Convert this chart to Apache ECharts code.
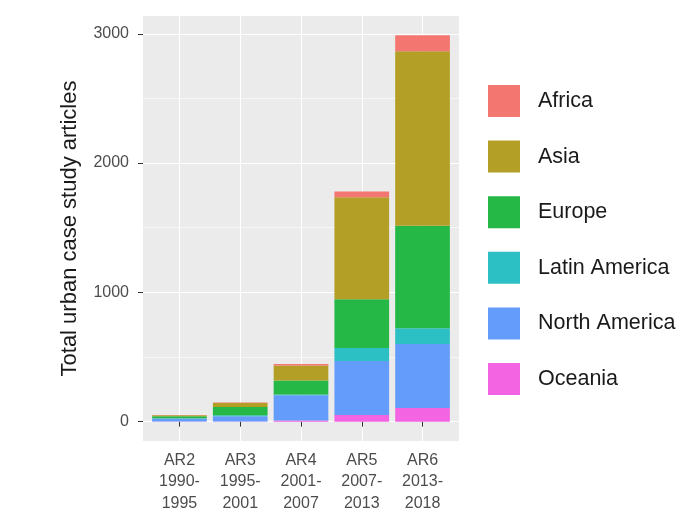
<!DOCTYPE html>
<html><head><meta charset="utf-8">
<script src="https://cdn.jsdelivr.net/npm/echarts@6/dist/echarts.min.js"></script>
<style>html,body{margin:0;padding:0;background:#fff}#c{width:696px;height:521px}</style>
</head><body><div id="c"></div>
<script>
// ---- data ----
const categories = ['AR2\n1990-\n1995', 'AR3\n1995-\n2001', 'AR4\n2001-\n2007', 'AR5\n2007-\n2013', 'AR6\n2013-\n2018'];
const regions = ['Africa', 'Asia', 'Europe', 'Latin America', 'North America', 'Oceania'];
const africa       = [3, 4, 12, 46, 124];
const asia         = [7, 31, 115, 789, 1348];
const europe       = [15, 65, 108, 376, 794];
const latinAmerica = [4, 7, 6, 101, 121];
const northAmerica = [22, 40, 195, 417, 495];
const oceania      = [1, 2, 10, 52, 106];
const yTicks = [0, 1000, 2000, 3000];
const yMinorTicks = [500, 1500, 2500];

// ---- build ----
const valuesByRegion = {
  'Africa': africa, 'Asia': asia, 'Europe': europe,
  'Latin America': latinAmerica, 'North America': northAmerica, 'Oceania': oceania
};
const colorByRegion = {
  'Africa': '#F47670', 'Asia': '#B49F26', 'Europe': '#25B847',
  'Latin America': '#2CBFC4', 'North America': '#639CFA', 'Oceania': '#F264E1'
};
const totals = categories.map((_, i) => regions.reduce((s, r) => s + valuesByRegion[r][i], 0));
const maxTotal = Math.max(...totals);
const yPad = maxTotal * 0.05;
const yMin = -yPad, yMax = maxTotal + yPad;
const xExpand = 0.6;
const xMin = 1 - xExpand, xMax = categories.length + xExpand;
const gridLeft = 143, gridTop = 16, gridW = 316, gridH = 425;
const unitPx = gridW / (xMax - xMin);
const catPos = categories.map((_, i) => i + 1);
const font = 'Liberation Sans, Arial, Helvetica, sans-serif';

// ggplot stacks the first factor level on top, so draw in reverse order
const stackOrder = regions.slice().reverse();
const series = stackOrder.map(r => ({
  name: r,
  type: 'bar',
  stack: 'total',
  barWidth: '90%',
  xAxisIndex: 1,
  yAxisIndex: 2,
  itemStyle: { color: colorByRegion[r] },
  emphasis: { disabled: true },
  data: valuesByRegion[r]
}));

const chart = echarts.init(document.getElementById('c'), null, { renderer: 'canvas' });
chart.setOption({
  animation: false,
  backgroundColor: '#fff',
  textStyle: { fontFamily: font },
  grid: [{
    left: gridLeft, top: gridTop, width: gridW, height: gridH,
    show: true, backgroundColor: '#EBEBEB', borderWidth: 0, containLabel: false
  }, {
    left: gridLeft + (1 - xMin - 0.5) * unitPx, top: gridTop,
    width: categories.length * unitPx, height: gridH,
    show: false, containLabel: false
  }],
  legend: {
    orient: 'vertical', left: 488, top: 85,
    itemWidth: 32, itemHeight: 32, itemGap: 23.6,
    icon: 'rect', padding: 0,
    data: regions,
    textStyle: { fontFamily: font, fontSize: 21.5, color: '#1A1A1A', padding: [0, 0, 0, 13] }
  },
  xAxis: [{
    gridIndex: 0, type: 'value', min: xMin, max: xMax,
    axisLine: { show: false },
    axisTick: { show: true, length: 5, lineStyle: { color: '#333', width: 1 }, customValues: catPos },
    axisLabel: {
      customValues: catPos,
      formatter: v => categories[Math.round(v) - 1] || '',
      color: '#4D4D4D', fontSize: 16, lineHeight: 21.5, margin: 8.5, fontFamily: font
    },
    splitLine: { show: true, lineStyle: { color: '#fff', width: 1.1 } }
  }, {
    gridIndex: 1, type: 'category', data: categories, show: false
  }],
  yAxis: [{
    gridIndex: 0, type: 'value', min: yMin, max: yMax,
    name: 'Total urban case study articles',
    nameLocation: 'middle', nameGap: 62,
    nameTextStyle: { fontFamily: font, fontSize: 22, color: '#1A1A1A' },
    axisLine: { show: false },
    axisTick: { show: true, length: 5, lineStyle: { color: '#333', width: 1 }, customValues: yTicks },
    axisLabel: { customValues: yTicks, formatter: v => String(v), color: '#4D4D4D', fontSize: 16, margin: 14, fontFamily: font },
    splitLine: { show: true, lineStyle: { color: '#fff', width: 1.1 } }
  }, {
    gridIndex: 0, type: 'value', min: yMin, max: yMax, position: 'left',
    axisLine: { show: false },
    axisTick: { show: false, customValues: yMinorTicks },
    axisLabel: { show: false, customValues: yMinorTicks },
    splitLine: { show: true, lineStyle: { color: '#fff', width: 0.6 } }
  }, {
    gridIndex: 1, type: 'value', min: yMin, max: yMax, show: false,
    splitLine: { show: false }
  }],
  series: series
});
</script>
</body></html>
